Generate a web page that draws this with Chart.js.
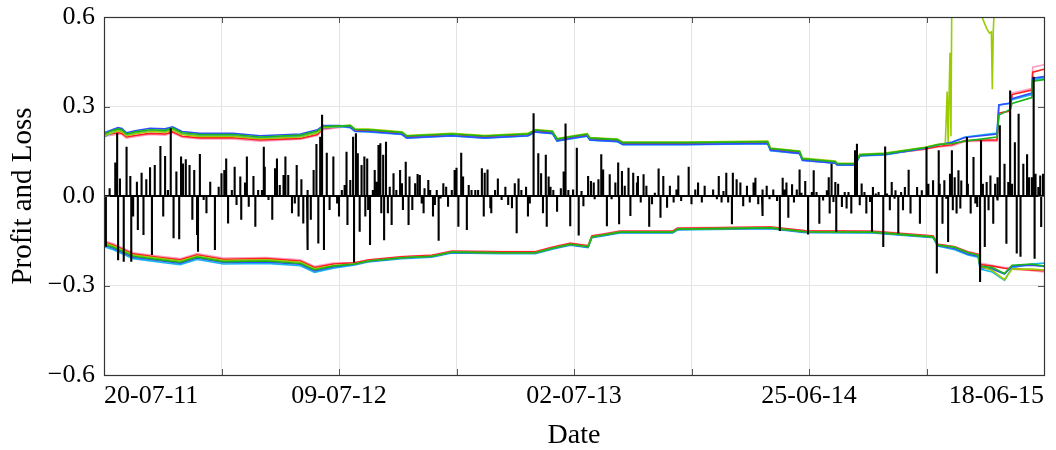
<!DOCTYPE html>
<html>
<head>
<meta charset="utf-8">
<title>Profit and Loss</title>
<script src="https://cdn.jsdelivr.net/npm/chart.js@4.4.0/dist/chart.umd.min.js"></script>
<style>
  html, body { margin: 0; padding: 0; background: #fff; }
  #chart { display: block; }
</style>
</head>
<body>
<canvas id="chart" width="1056" height="450"></canvas>
<script>
// ===== DATA =====
// x axis is the trading day index (0 .. 1000)
const xTickDays = [0, 250, 500, 750, 1000];
const xTickLabels = ['20-07-11', '09-07-12', '02-07-13', '25-06-14', '18-06-15'];
const yTicks = [-0.6, -0.3, 0, 0.3, 0.6];

// daily profit and loss (black)
const pnlDays = [
  2, 6, 12, 14, 15, 17, 21, 24, 28, 29,
  31, 35, 36, 40, 42, 45, 49, 51, 54, 60,
  63, 65, 68, 71, 74, 77, 80, 82, 84, 87,
  91, 94, 96, 99, 100, 102, 106, 109, 113, 118,
  122, 125, 128, 130, 132, 136, 139, 141, 145, 146,
  150, 152, 154, 159, 161, 164, 168, 170, 171, 175,
  179, 182, 184, 187, 191, 193, 196, 200, 203, 205,
  207, 210, 212, 216, 217, 220, 223, 226, 228, 230,
  232, 234, 237, 240, 244, 248,
  250, 253, 256, 258, 259, 262, 265, 266, 268, 270,
  272, 274, 277, 278, 280, 281, 283, 286, 288, 290,
  292, 294, 295, 297, 298, 300, 302, 304, 306, 308,
  311, 315, 317, 318, 321, 324, 325, 328, 331, 333,
  334, 336, 338, 340, 341, 345, 347, 350, 352, 354,
  356, 358, 361, 364, 366, 370, 373, 375, 377, 380,
  382, 386, 388, 391, 395, 398, 402, 404, 405, 408,
  411, 412, 416, 419, 423, 427, 430, 434, 437, 439,
  441, 444, 449, 451, 453, 457, 458, 462, 465, 467,
  470, 471, 473, 475, 478, 482, 486, 489, 491, 494,
  496, 499, 503, 505, 508, 510, 515, 518, 521, 522,
  526, 529, 531, 535, 538, 540, 544, 547, 548, 551,
  554, 558, 560, 563, 567, 568, 571, 574, 577, 580,
  583, 586, 590, 592, 595, 599, 602, 606, 609, 611,
  614, 618, 622, 625, 629, 632, 636, 639, 645, 648,
  652, 654, 657, 659, 662, 664, 668, 669, 673, 677,
  680, 684, 687, 691, 693, 696, 700, 701, 705, 708,
  712, 716, 719, 722, 724, 726, 728, 732, 734, 737,
  740, 742, 746, 749,
  753, 755, 758, 761, 763, 765, 767, 769, 771, 772,
  774, 776, 778, 779, 781, 785, 788, 790, 792, 795,
  797, 799, 801, 802, 804, 806, 809, 811, 815, 817,
  818, 821, 824, 827, 829, 831, 833, 836, 838, 841,
  842, 845, 848, 850, 852, 856, 858, 861, 865, 868,
  870, 873, 875, 877, 880, 882, 886, 888, 889, 892,
  894, 896, 898, 900, 902, 903, 905, 907, 909, 911,
  912, 915, 918, 919, 922, 925, 927, 929, 932, 933,
  935, 937, 939, 941, 943, 946, 948, 950, 951, 953,
  955, 958, 960, 962, 964, 966, 969, 971, 973, 975,
  978, 980, 982, 984, 987, 989, 990, 991, 994, 996,
  997, 999
];
const pnlValues = [
  -0.17, 0.026, 0.112, 0.21, -0.215, 0.059, -0.22, 0.165, 0.067, -0.22,
  -0.069, 0.048, -0.114, 0.078, -0.131, 0.056, 0.096, -0.198, 0.104, 0.168,
  -0.069, 0.134, 0.02, 0.227, -0.142, 0.082, -0.145, 0.132, 0.109, 0.123,
  0.104, -0.08, 0.087, -0.131, -0.187, 0.141, -0.013, -0.058, 0.048, -0.181,
  0.031, 0.076, 0.087, 0.126, -0.092, 0.02, 0.098, -0.03, 0.065, -0.08,
  0.045, 0.132, -0.036, 0.067, -0.103, 0.02, 0.02, 0.165, 0.098, -0.013,
  -0.08, 0.093, 0.126, 0.037, 0.07, 0.132, 0.07, -0.058, -0.025, 0.104,
  -0.069, 0.056, -0.092, 0.02, -0.181, -0.08, 0.087, 0.174, -0.159, 0.199,
  0.272, -0.181, 0.145, -0.047, 0.132, -0.025,
  -0.069, 0.02, 0.037, 0.148, -0.097, 0.054, 0.199, -0.223, 0.21, 0.143,
  -0.12, 0.104, 0.132, -0.069, 0.126, -0.047, -0.164, 0.02, 0.087, 0.048,
  0.171, 0.177, -0.058, 0.138, -0.148, 0.182, -0.058, 0.031, -0.097, 0.076,
  0.02, 0.087, 0.043, -0.047, 0.115, -0.097, 0.065, -0.047, 0.043, 0.02,
  0.074, 0.07, -0.025, -0.058, 0.026, 0.054, 0.02, -0.069, -0.03, 0.02,
  -0.15, -0.008, 0.043, 0.031, -0.036, 0.02, 0.087, 0.095, -0.103, 0.145,
  0.065, -0.114, 0.037, 0.02, 0.02, 0.02, 0.093, -0.069, 0.078, 0.089,
  -0.041, -0.058, 0.02, 0.059, -0.013, 0.031, -0.03, -0.041, 0.043, -0.125,
  0.059, 0.02, 0.031, -0.069, -0.025, 0.277, -0.002, 0.143, 0.076, -0.058,
  0.138, -0.103, 0.065, 0.031, 0.02, -0.053, 0.026, 0.082, 0.243, 0.02,
  -0.101, 0.022, 0.162, -0.132, 0.017, -0.034, 0.067, 0.05, 0.045, -0.011,
  0.056, 0.14, 0.089, -0.101, 0.073, -0.011, 0.045, 0.112, -0.095, 0.084,
  0.034, 0.095, -0.067, 0.078, 0.045, 0.067, -0.022, 0.073, 0.034, -0.103,
  -0.028, 0.011, 0.092, -0.073, 0.067, -0.039, 0.034, -0.022, 0.022, 0.069,
  -0.017, 0.0, 0.098, -0.028, 0.022, 0.045, -0.022, 0.034, 0.0, 0.022,
  -0.011, 0.067, -0.022, 0.017, 0.078, -0.022, -0.095, 0.078, 0.056, 0.045,
  -0.034, 0.034, -0.022, 0.045, 0.061, -0.028, 0.022, -0.067, 0.034, -0.011,
  0.022, -0.017, -0.117, 0.061, 0.022, 0.045, -0.073, 0.039, -0.022, 0.022,
  0.089, 0.011, 0.05, -0.129,
  0.013, 0.086, 0.013, -0.093, -0.003, -0.015, 0.002, 0.019, 0.063, -0.059,
  0.108, -0.02, 0.047, -0.12, 0.041, -0.037, 0.013, -0.042, 0.013, -0.059,
  -0.003, 0.153, 0.175, 0.002, -0.031, 0.042, 0.013, -0.059, -0.02, -0.12,
  0.03, 0.008, 0.013, -0.003, -0.171, 0.166, 0.008, -0.048, 0.047, -0.009,
  0.019, -0.126, 0.013, -0.048, 0.03, 0.088, -0.059, -0.003, 0.03, -0.093,
  0.019, -0.003, 0.164, 0.041, -0.003, 0.053, -0.26, 0.153, 0.041, -0.093,
  0.053, -0.009, -0.154, 0.075, 0.153, -0.048, 0.063, -0.059, 0.086, -0.042,
  0.052, 0.002, 0.198, 0.041, -0.059, 0.131, -0.025, -0.037, -0.288, 0.187,
  0.041, -0.171, 0.047, -0.048, 0.069, -0.093, 0.041, -0.015, 0.063, 0.237,
  -0.003, 0.108, -0.16, 0.047, 0.354, 0.041, 0.18, -0.193, 0.276, -0.204,
  0.108, 0.002, 0.14, 0.063, 0.063, 0.40, -0.21, 0.075, 0.03, 0.069,
  -0.104, 0.075
];

// upper bands (one per model)
const upperDays = [
  0, 10, 15, 19, 24, 33, 49, 65, 73, 83,
  102, 137, 166, 209, 227, 233, 251, 262, 267, 281,
  317, 322, 370, 405, 451, 459, 477, 482, 501, 514,
  517, 546, 552, 620, 706, 709, 740, 743, 778, 780,
  799, 804, 831, 873, 887, 902, 916, 950, 952, 964,
  966, 987, 988, 1000
];
const upperGreen = [
  0.208, 0.22, 0.225, 0.222, 0.208, 0.215, 0.222, 0.22, 0.228, 0.212,
  0.206, 0.206, 0.198, 0.204, 0.218, 0.233, 0.235, 0.236, 0.223, 0.222,
  0.213, 0.201, 0.208, 0.201, 0.208, 0.221, 0.216, 0.191, 0.201, 0.207,
  0.194, 0.189, 0.179, 0.179, 0.182, 0.159, 0.149, 0.125, 0.115, 0.108,
  0.108, 0.138, 0.142, 0.162, 0.172, 0.176, 0.184, 0.198, 0.271, 0.29,
  0.31, 0.33, 0.385, 0.39
];
const upperBlue = [
  0.212, 0.224, 0.229, 0.226, 0.212, 0.219, 0.227, 0.225, 0.232, 0.216,
  0.21, 0.21, 0.202, 0.208, 0.222, 0.236, 0.236, 0.23, 0.217, 0.216,
  0.207, 0.195, 0.202, 0.195, 0.202, 0.215, 0.21, 0.185, 0.195, 0.201,
  0.188, 0.183, 0.173, 0.173, 0.176, 0.153, 0.143, 0.12, 0.11, 0.104,
  0.104, 0.135, 0.139, 0.16, 0.172, 0.18, 0.196, 0.208, 0.305, 0.312,
  0.326, 0.345, 0.395, 0.4
];
const upperCyan = [
  0.198, 0.214, 0.22, 0.218, 0.205, 0.21, 0.218, 0.216, 0.222, 0.208,
  0.202, 0.202, 0.194, 0.2, 0.212, 0.228, 0.232, 0.229, 0.216, 0.215,
  0.206, 0.194, 0.201, 0.194, 0.201, 0.214, 0.209, 0.184, 0.194, 0.2,
  0.187, 0.182, 0.172, 0.172, 0.175, 0.152, 0.142, 0.119, 0.11, 0.103,
  0.103, 0.134, 0.138, 0.16, 0.172, 0.18, 0.198, 0.211, 0.305, 0.31,
  0.323, 0.34, 0.39, 0.395
];
const upperRed = [
  0.205, 0.21, 0.212, 0.21, 0.198, 0.203, 0.21, 0.208, 0.215, 0.2,
  0.195, 0.195, 0.188, 0.193, 0.206, 0.226, 0.232, 0.234, 0.221, 0.22,
  0.211, 0.199, 0.206, 0.199, 0.206, 0.219, 0.214, 0.189, 0.199, 0.205,
  0.192, 0.187, 0.177, 0.177, 0.18, 0.157, 0.147, 0.123, 0.113, 0.106,
  0.106, 0.136, 0.14, 0.158, 0.166, 0.172, 0.186, 0.188, 0.278, 0.285,
  0.34, 0.355, 0.415, 0.425
];
const upperPink = [
  0.2, 0.205, 0.208, 0.206, 0.194, 0.199, 0.206, 0.204, 0.212, 0.197,
  0.191, 0.191, 0.184, 0.19, 0.203, 0.222, 0.23, 0.235, 0.222, 0.221,
  0.212, 0.2, 0.207, 0.2, 0.207, 0.22, 0.215, 0.19, 0.2, 0.206,
  0.193, 0.188, 0.178, 0.178, 0.181, 0.158, 0.148, 0.124, 0.114, 0.107,
  0.107, 0.137, 0.141, 0.156, 0.164, 0.168, 0.183, 0.184, 0.278, 0.285,
  0.345, 0.36, 0.432, 0.44
];
// the yellow-green model breaks out of the plot near the end
const upperLimeDays = [
  0, 10, 15, 19, 24, 33, 49, 65, 73, 83,
  102, 137, 166, 209, 227, 233, 251, 262, 267, 281,
  317, 322, 370, 405, 451, 459, 477, 482, 501, 514,
  517, 546, 552, 620, 706, 709, 740, 743, 778, 780,
  799, 804, 831, 873, 887, 895, 897, 898, 900, 901,
  903, 930, 934, 939, 942, 944, 945, 946, 948, 955,
  1000
];
const upperLime = [
  0.202, 0.214, 0.219, 0.216, 0.202, 0.209, 0.216, 0.214, 0.222, 0.206,
  0.2, 0.2, 0.192, 0.198, 0.212, 0.23, 0.234, 0.238, 0.225, 0.224,
  0.215, 0.203, 0.21, 0.203, 0.21, 0.223, 0.218, 0.193, 0.203, 0.209,
  0.196, 0.191, 0.181, 0.181, 0.184, 0.161, 0.151, 0.127, 0.117, 0.11,
  0.11, 0.14, 0.144, 0.163, 0.173, 0.175, 0.35, 0.18, 0.48, 0.2,
  1.2, 1.0, 0.6, 0.562, 0.546, 0.55, 0.358, 0.548, 0.7, 1.2,
  1.3
];

// lower bands (one per model)
const lowerDays = [
  0, 10, 17, 31, 60, 81, 99, 127, 173, 209,
  224, 244, 267, 281, 317, 349, 370, 423, 459, 477,
  496, 515, 519, 531, 549, 605, 610, 709, 746, 817,
  882, 887, 905, 919, 930, 932, 945, 958, 966, 987,
  1000
];
const lowerGreen = [
  -0.162, -0.172, -0.182, -0.202, -0.214, -0.222, -0.205, -0.22, -0.218, -0.226,
  -0.248, -0.235, -0.228, -0.218, -0.207, -0.202, -0.188, -0.19, -0.19, -0.175,
  -0.162, -0.17, -0.137, -0.131, -0.121, -0.121, -0.111, -0.107, -0.12, -0.121,
  -0.137, -0.164, -0.172, -0.19, -0.198, -0.235, -0.24, -0.26, -0.232, -0.228,
  -0.235
];
const lowerBlue = [
  -0.165, -0.175, -0.185, -0.205, -0.217, -0.225, -0.208, -0.223, -0.221, -0.229,
  -0.251, -0.238, -0.229, -0.219, -0.208, -0.203, -0.189, -0.191, -0.191, -0.176,
  -0.163, -0.171, -0.138, -0.132, -0.122, -0.122, -0.112, -0.108, -0.121, -0.122,
  -0.138, -0.166, -0.176, -0.194, -0.202, -0.24, -0.245, -0.262, -0.235, -0.232,
  -0.236
];
const lowerCyan = [
  -0.17, -0.18, -0.19, -0.21, -0.222, -0.23, -0.213, -0.228, -0.226, -0.234,
  -0.256, -0.242, -0.231, -0.221, -0.21, -0.205, -0.191, -0.193, -0.193, -0.178,
  -0.165, -0.173, -0.14, -0.134, -0.124, -0.124, -0.114, -0.11, -0.123, -0.124,
  -0.14, -0.168, -0.18, -0.198, -0.205, -0.245, -0.255, -0.283, -0.24, -0.228,
  -0.225
];
const lowerRed = [
  -0.154, -0.164, -0.174, -0.194, -0.206, -0.214, -0.197, -0.212, -0.21, -0.218,
  -0.24, -0.228, -0.224, -0.215, -0.204, -0.199, -0.185, -0.187, -0.187, -0.172,
  -0.159, -0.167, -0.134, -0.128, -0.118, -0.118, -0.108, -0.104, -0.117, -0.118,
  -0.134, -0.162, -0.17, -0.188, -0.196, -0.23, -0.235, -0.242, -0.245, -0.248,
  -0.25
];
const lowerPink = [
  -0.15, -0.16, -0.17, -0.19, -0.202, -0.21, -0.193, -0.208, -0.206, -0.214,
  -0.236, -0.225, -0.223, -0.214, -0.203, -0.198, -0.184, -0.186, -0.186, -0.171,
  -0.158, -0.166, -0.133, -0.127, -0.117, -0.117, -0.107, -0.103, -0.116, -0.117,
  -0.133, -0.161, -0.17, -0.186, -0.194, -0.225, -0.232, -0.24, -0.24, -0.25,
  -0.255
];
const lowerLime = [
  -0.158, -0.168, -0.178, -0.198, -0.21, -0.218, -0.201, -0.216, -0.214, -0.222,
  -0.244, -0.233, -0.228, -0.218, -0.207, -0.202, -0.188, -0.19, -0.19, -0.175,
  -0.162, -0.17, -0.137, -0.131, -0.121, -0.121, -0.111, -0.107, -0.12, -0.121,
  -0.137, -0.164, -0.172, -0.19, -0.198, -0.235, -0.25, -0.28, -0.245, -0.245,
  -0.248
];

// ===== STYLE =====
const COLORS = {
  red: '#ff1f1f',
  pink: '#ff9cc0',
  blue: '#2f4dff',
  cyan: '#1cb6ee',
  green: '#1cb41c',
  lime: '#9acc00'
};
const FONT = "'Liberation Serif', 'Times New Roman', serif";

// ===== BUILD DATASETS =====
function toPoints(days, values) {
  return days.map((d, i) => ({ x: d, y: values[i] }));
}

// each daily value drawn as a stem from the zero line
function toStems(days, values) {
  const pts = [{ x: 0, y: 0 }];
  days.forEach((d, i) => {
    pts.push({ x: d, y: 0 }, { x: d, y: values[i] }, { x: d, y: 0 });
  });
  pts.push({ x: 1000, y: 0 });
  return pts;
}

function bandSet(days, values, color) {
  return {
    data: toPoints(days, values),
    borderColor: color,
    borderWidth: 1.6,
    pointRadius: 0,
    tension: 0,
    fill: false
  };
}

const datasets = [
  {
    data: toStems(pnlDays, pnlValues),
    borderColor: '#000',
    borderWidth: 2.1,
    borderJoinStyle: 'bevel',
    pointRadius: 0,
    tension: 0,
    fill: false
  },
  bandSet(upperDays, upperGreen, COLORS.green),
  bandSet(upperLimeDays, upperLime, COLORS.lime),
  bandSet(upperDays, upperBlue, COLORS.blue),
  bandSet(upperDays, upperCyan, COLORS.cyan),
  bandSet(upperDays, upperRed, COLORS.red),
  bandSet(upperDays, upperPink, COLORS.pink),
  bandSet(lowerDays, lowerGreen, COLORS.green),
  bandSet(lowerDays, lowerLime, COLORS.lime),
  bandSet(lowerDays, lowerBlue, COLORS.blue),
  bandSet(lowerDays, lowerCyan, COLORS.cyan),
  bandSet(lowerDays, lowerRed, COLORS.red),
  bandSet(lowerDays, lowerPink, COLORS.pink)
];

// frame box and inward tick marks, pgfplots style
const framePlugin = {
  id: 'frame',
  afterDraw(chart) {
    const { ctx, chartArea: a, scales } = chart;
    ctx.save();
    ctx.strokeStyle = '#555';
    ctx.lineWidth = 1;
    ctx.beginPath();
    scales.x.ticks.forEach(t => {
      const px = Math.round(scales.x.getPixelForValue(t.value)) + 0.5;
      ctx.moveTo(px, a.bottom); ctx.lineTo(px, a.bottom - 6);
      ctx.moveTo(px, a.top); ctx.lineTo(px, a.top + 6);
    });
    scales.y.ticks.forEach(t => {
      const py = Math.round(scales.y.getPixelForValue(t.value)) + 0.5;
      ctx.moveTo(a.left, py); ctx.lineTo(a.left + 6, py);
      ctx.moveTo(a.right, py); ctx.lineTo(a.right - 6, py);
    });
    ctx.stroke();
    ctx.strokeStyle = '#333';
    ctx.lineWidth = 1.2;
    ctx.strokeRect(Math.round(a.left) + 0.5, Math.round(a.top) + 0.5,
      Math.round(a.right - a.left), Math.round(a.bottom - a.top));
    ctx.restore();
  }
};

// ===== CHART =====
new Chart(document.getElementById('chart'), {
  type: 'line',
  data: { datasets },
  options: {
    responsive: false,
    animation: false,
    layout: { padding: { top: 17, right: 12, left: 0, bottom: 0 } },
    plugins: {
      legend: { display: false },
      tooltip: { enabled: false }
    },
    scales: {
      x: {
        type: 'linear',
        min: 0,
        max: 1000,
        afterFit: s => {
          s.height = 75;
          s.paddingLeft = 0;
          s.paddingRight = 0;
        },
        border: { display: false },
        grid: { color: '#e4e4e4', lineWidth: 1, drawTicks: false },
        ticks: {
          stepSize: 125,
          autoSkip: false,
          maxRotation: 0,
          align: 'inner',
          padding: 6,
          color: '#000',
          font: { family: FONT, size: 26 },
          callback: v => {
            const i = xTickDays.indexOf(v);
            return i >= 0 ? xTickLabels[i] : '';
          }
        },
        title: {
          display: true,
          text: 'Date',
          color: '#000',
          font: { family: FONT, size: 28, lineHeight: 1.05 },
          padding: { top: 0, bottom: 0 }
        }
      },
      y: {
        min: -0.6,
        max: 0.6,
        afterFit: s => {
          s.width = 104;
          s.paddingTop = 0;
          s.paddingBottom = 0;
        },
        afterBuildTicks: s => { s.ticks = yTicks.map(v => ({ value: v })); },
        border: { display: false },
        grid: { color: '#e4e4e4', lineWidth: 1, drawTicks: false },
        ticks: {
          padding: 9,
          color: '#000',
          font: { family: FONT, size: 26 },
          callback: v => (v < 0 ? '\u2212' : '') + Math.abs(v).toFixed(1)
        },
        title: {
          display: true,
          text: 'Profit and Loss',
          color: '#000',
          font: { family: FONT, size: 29 },
          padding: { top: 6, bottom: 0 }
        }
      }
    }
  },
  plugins: [framePlugin]
});
</script>
</body>
</html>
